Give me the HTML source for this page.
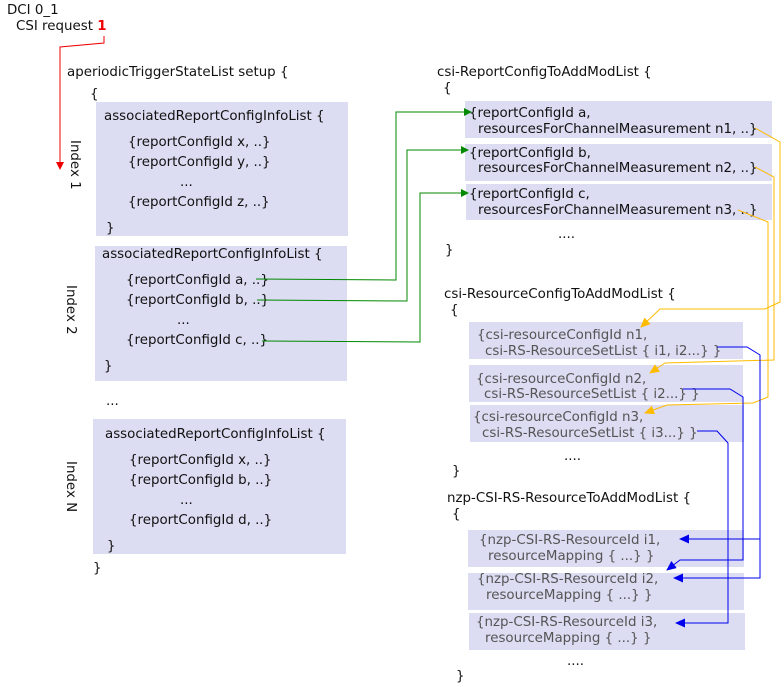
<!DOCTYPE html>
<html><head><meta charset="utf-8"><style>
html,body{margin:0;padding:0;background:#fff}
svg{display:block}
text{font-family:"DejaVu Sans","Liberation Sans",sans-serif;font-size:13.4px;fill:#111}
.g{fill:#555}
</style></head><body>
<svg width="784" height="687" viewBox="0 0 784 687" xmlns="http://www.w3.org/2000/svg">
<defs>
<marker id="ar" markerWidth="8" markerHeight="8" refX="7" refY="4" orient="auto" markerUnits="userSpaceOnUse"><path d="M0,0 L8,4 L0,8z" fill="#e00"/></marker>
<marker id="ag" markerWidth="8" markerHeight="8" refX="7" refY="4" orient="auto" markerUnits="userSpaceOnUse"><path d="M0,0 L8,4 L0,8z" fill="#080"/></marker>
<marker id="ay" markerWidth="10" markerHeight="9" refX="9" refY="4.5" orient="auto" markerUnits="userSpaceOnUse"><path d="M0,0 L10,4.5 L0,9z" fill="#fb0"/></marker>
<marker id="ab" markerWidth="10" markerHeight="9" refX="9" refY="4.5" orient="auto" markerUnits="userSpaceOnUse"><path d="M0,0 L10,4.5 L0,9z" fill="#00e"/></marker>
</defs>
<g fill="#dcdcf2">
<rect x="96" y="102" width="252" height="134"/>
<rect x="95" y="246" width="252" height="135"/>
<rect x="93" y="419" width="253" height="135"/>
<rect x="465" y="101" width="307" height="37"/>
<rect x="465" y="144" width="307" height="37"/>
<rect x="466" y="184" width="306" height="36"/>
<rect x="469" y="322" width="274" height="37"/>
<rect x="469" y="365" width="274" height="37"/>
<rect x="470" y="405" width="274" height="37"/>
<rect x="468" y="530" width="276" height="37"/>
<rect x="468" y="573" width="276" height="37"/>
<rect x="469" y="613" width="276" height="37"/>
</g>
<text x="7" y="14">DCI 0_1</text>
<text x="16" y="30">CSI request <tspan fill="#e00" font-weight="bold">1</tspan></text>
<text x="67" y="76">aperiodicTriggerStateList setup {</text>
<text x="90" y="98">{</text>
<text x="104" y="120">associatedReportConfigInfoList {</text>
<text x="128" y="146">{reportConfigId x, ..}</text>
<text x="128" y="166">{reportConfigId y, ..}</text>
<text x="180" y="186">...</text>
<text x="128" y="206">{reportConfigId z, ..}</text>
<text x="106" y="232">}</text>
<text x="102" y="258">associatedReportConfigInfoList {</text>
<text x="126" y="284">{reportConfigId a, ..}</text>
<text x="126" y="304">{reportConfigId b, ..}</text>
<text x="177" y="324">...</text>
<text x="126" y="344">{reportConfigId c, ..}</text>
<text x="104" y="370">}</text>
<text x="106" y="405">...</text>
<text x="105" y="438">associatedReportConfigInfoList {</text>
<text x="129" y="464">{reportConfigId x, ..}</text>
<text x="129" y="484">{reportConfigId b, ..}</text>
<text x="180" y="504">...</text>
<text x="129" y="524">{reportConfigId d, ..}</text>
<text x="107" y="550">}</text>
<text x="93" y="572">}</text>
<text transform="translate(71,140) rotate(90)">Index 1</text>
<text transform="translate(67,285) rotate(90)">Index 2</text>
<text transform="translate(67,461) rotate(90)">Index N</text>

<text x="437" y="76">csi-ReportConfigToAddModList {</text>
<text x="443" y="92">{</text>
<text x="469" y="117">{reportConfigId a,</text>
<text x="478" y="133">resourcesForChannelMeasurement n1, ..}</text>
<text x="469" y="157">{reportConfigId b,</text>
<text x="478" y="172">resourcesForChannelMeasurement n2, ..}</text>
<text x="469" y="198">{reportConfigId c,</text>
<text x="478" y="214">resourcesForChannelMeasurement n3, ..}</text>
<text x="558" y="238">....</text>
<text x="445" y="254">}</text>
<text x="444" y="298">csi-ResourceConfigToAddModList {</text>
<text x="450" y="314">{</text>
<text class="g" x="477" y="339">{csi-resourceConfigId n1,</text>
<text class="g" x="485" y="355">csi-RS-ResourceSetList { i1, i2...} }</text>
<text class="g" x="476" y="383">{csi-resourceConfigId n2,</text>
<text class="g" x="484" y="398">csi-RS-ResourceSetList { i2...} }</text>
<text class="g" x="473" y="421">{csi-resourceConfigId n3,</text>
<text class="g" x="482" y="437">csi-RS-ResourceSetList { i3...} }</text>
<text x="564" y="460">....</text>
<text x="452" y="475">}</text>
<text x="447" y="502">nzp-CSI-RS-ResourceToAddModList {</text>
<text x="452" y="518">{</text>
<text class="g" x="479" y="544">{nzp-CSI-RS-ResourceId i1,</text>
<text class="g" x="488" y="560">resourceMapping { ...} }</text>
<text class="g" x="477" y="583">{nzp-CSI-RS-ResourceId i2,</text>
<text class="g" x="486" y="599">resourceMapping { ...} }</text>
<text class="g" x="476" y="626">{nzp-CSI-RS-ResourceId i3,</text>
<text class="g" x="485" y="642">resourceMapping { ...} }</text>
<text x="567" y="665">....</text>
<text x="456" y="680">}</text>

<g fill="none" stroke-width="1">
<polyline stroke="#e00" points="104,36 104,43 60,47 60,169" marker-end="url(#ar)"/>
<polyline stroke="#080" points="256,279 396,280 396,112 471,112" marker-end="url(#ag)"/>
<polyline stroke="#080" points="257,300 407,301 407,150 468,150" marker-end="url(#ag)"/>
<polyline stroke="#080" points="262,341 420,342 420,193 468,193" marker-end="url(#ag)"/>
<polyline stroke="#fb0" points="755,128 780,142 780,302 765,309 660,309 641,327" marker-end="url(#ay)"/>
<polyline stroke="#fb0" points="755,167 774,177 774,360 665,363 650,373" marker-end="url(#ay)"/>
<polyline stroke="#fb0" points="738,210 768,222 768,397 753,403 667,405 645,413" marker-end="url(#ay)"/>
<polyline stroke="#00e" points="717,347 747,347 760,355 760,578 674,578" marker-end="url(#ab)"/>
<polyline stroke="#00e" points="760,539 680,539" marker-end="url(#ab)"/>
<polyline stroke="#00e" points="683,389 730,389 743,397 743,560 680,560 667,570" marker-end="url(#ab)"/>
<polyline stroke="#00e" points="697,431 717,431 728,443 728,623 676,623" marker-end="url(#ab)"/>
</g>
</svg>
</body></html>
